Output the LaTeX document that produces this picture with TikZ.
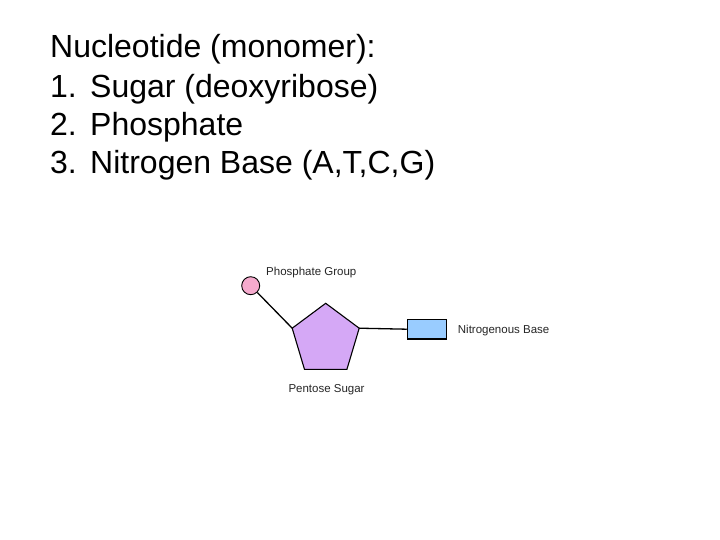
\documentclass[tikz,border=0pt]{standalone}
\usepackage{fontspec}
\setmainfont{Liberation Sans}
\begin{document}
\begin{tikzpicture}[x=1pt,y=-1pt,
  big/.style={anchor=base west,inner sep=0pt,font=\fontsize{32}{36}\selectfont},
  small/.style={anchor=base west,inner sep=0pt,font=\fontsize{11.5}{13}\selectfont,text=black!85},
  link/.style={line width=1.3pt,black}]
\useasboundingbox[fill=white] (0,0) rectangle (720,540);
\node[big] (t0) at (50,57.5) {Nucleotide (monomer):};
\node[big] (n1) at (50,98) {1.};
\node[big] (t1) at (90,98) {Sugar (deoxyribose)};
\node[big] (n2) at (50,135.5) {2.};
\node[big] (t2) at (90,135.5) {Phosphate};
\node[big] (n3) at (50,173.5) {3.};
\node[big] (t3) at (90,173.5) {Nitrogen Base (A,T,C,G)};
% pentagon
\coordinate (v1) at (325.7,303.3);
\coordinate (v2) at (359.2,328.2);
\coordinate (v3) at (346.9,369.4);
\coordinate (v4) at (304.5,369.4);
\coordinate (v5) at (292.2,328.2);
\draw[line width=1.1pt,fill={rgb,255:red,213;green,168;blue,246},line join=miter] (v1)--(v2)--(v3)--(v4)--(v5)--cycle;
\node[circle,draw,line width=0.9pt,fill={rgb,255:red,245;green,170;blue,205},minimum size=18pt,inner sep=0pt] (ph) at (250.7,285.7) {};
\node[draw,line width=1.5pt,fill={rgb,255:red,153;green,204;blue,255},minimum width=39pt,minimum height=19.5pt,inner sep=0pt] (nb) at (427,329.2) {};
\draw[link] (ph) -- (v5);
\draw[link] (v2) -- (nb.west);
\node[small] (lp) at (266,275.5) {Phosphate Group};
\node[small] (ln) at (457.7,333) {Nitrogenous Base};
\node[small] (ls) at (288.3,392) {Pentose Sugar};
\end{tikzpicture}
\end{document}
